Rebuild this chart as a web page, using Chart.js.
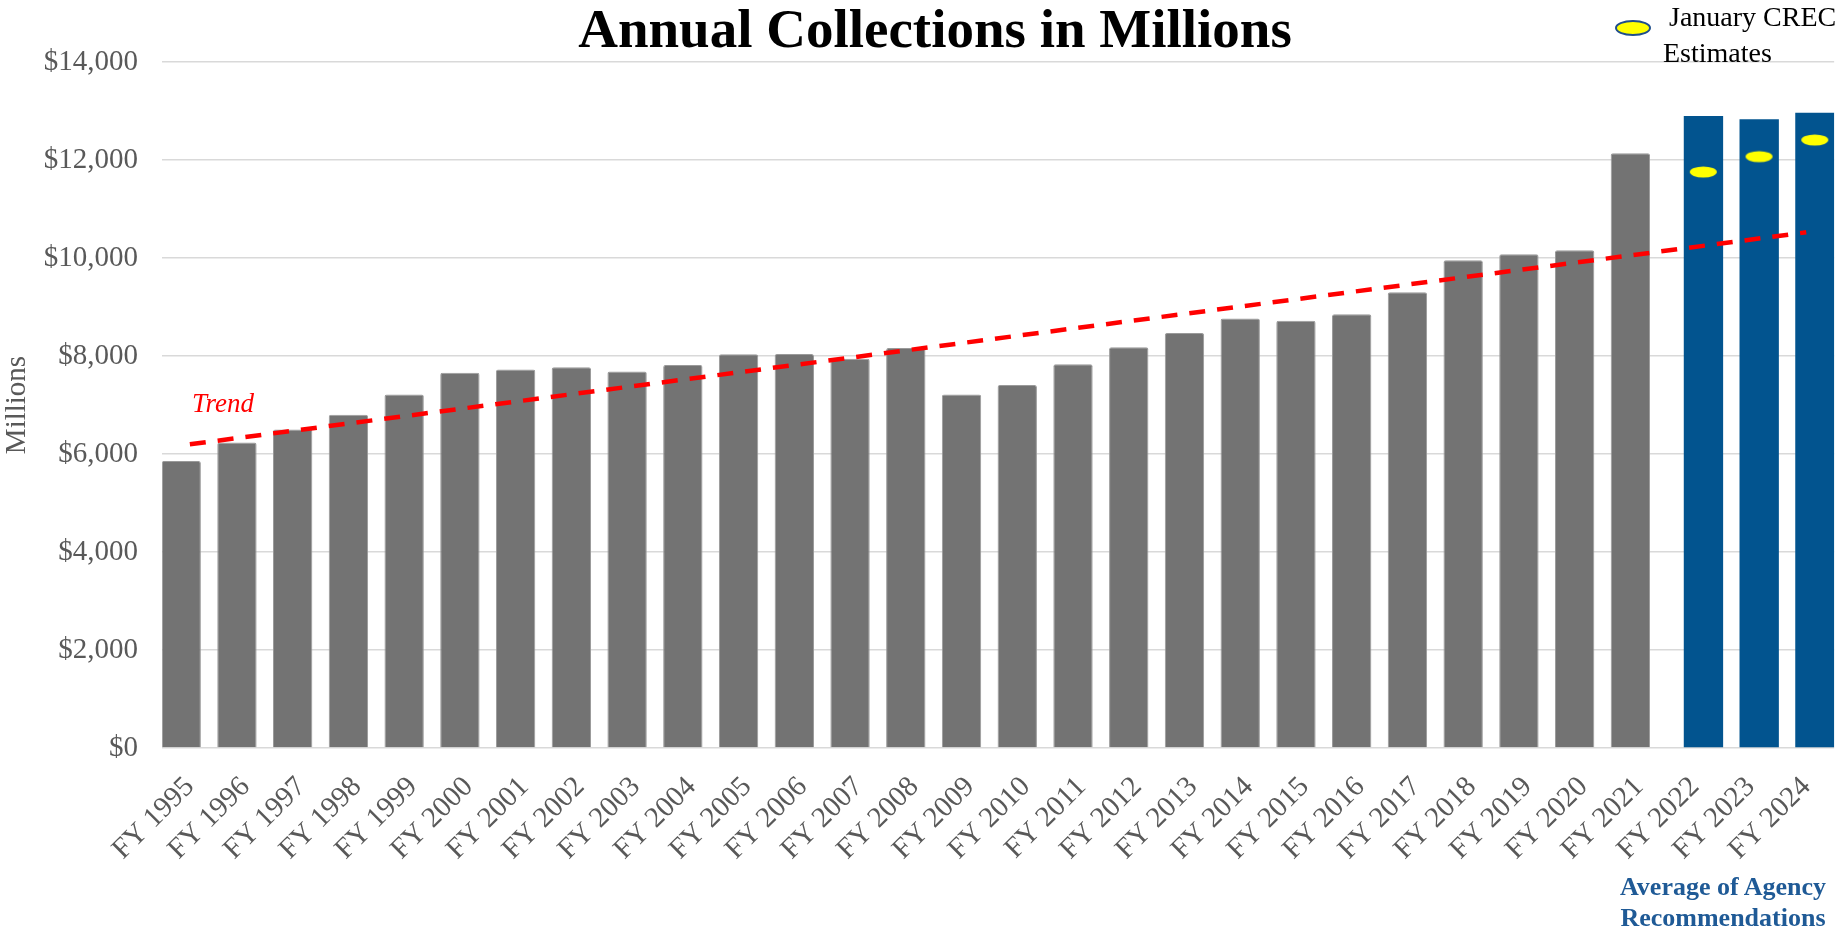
<!DOCTYPE html>
<html>
<head>
<meta charset="utf-8">
<title>Annual Collections in Millions</title>
<script src="https://cdn.jsdelivr.net/npm/chart.js@4.4.1/dist/chart.umd.min.js"></script>
<style>
    body { margin: 0; background: #fff; }
    #wrap { position: relative; width: 1845px; height: 933px; font-family: "Liberation Serif", "Times New Roman", serif; }
    #wrap canvas { position: absolute; left: 0; top: 0; }
    .txt { position: absolute; white-space: nowrap; line-height: 1; }
    #title { left: 935px; top: 1px; transform: translateX(-50%); font-size: 55px; font-weight: bold; color: #000; }
    .legend-line { font-size: 28px; color: #000; }
    #legendMark { position: absolute; left: 1615px; top: 20px; width: 32px; height: 12px; border: 2px solid #1f4e8c; border-radius: 50%; background: #ffff00; }
    #trend { left: 192px; top: 390px; font-size: 27px; font-style: italic; color: #ff0000; }
    #note { left: 1723px; top: 871px; transform: translateX(-50%); font-size: 26px; font-weight: bold; color: #1f5a96; text-align: center; line-height: 31px; }
</style>
</head>
<body>
<div id="wrap">
    <canvas id="collectionsChart" width="1845" height="933"></canvas>
    <div class="txt" id="title">Annual Collections in Millions</div>
    <div id="legendMark"></div>
    <div class="txt legend-line" style="left:1669px; top:3px;">January CREC</div>
    <div class="txt legend-line" style="left:1663px; top:39px;">Estimates</div>
    <div class="txt" id="trend">Trend</div>
    <div class="txt" id="note">Average of Agency<br>Recommendations</div>
</div>
<script>
// Fiscal years on the x axis
const years = [
    'FY 1995', 'FY 1996', 'FY 1997', 'FY 1998', 'FY 1999', 'FY 2000', 'FY 2001', 'FY 2002',
    'FY 2003', 'FY 2004', 'FY 2005', 'FY 2006', 'FY 2007', 'FY 2008', 'FY 2009', 'FY 2010',
    'FY 2011', 'FY 2012', 'FY 2013', 'FY 2014', 'FY 2015', 'FY 2016', 'FY 2017', 'FY 2018',
    'FY 2019', 'FY 2020', 'FY 2021', 'FY 2022', 'FY 2023', 'FY 2024'
];

// Actual collections (millions), FY 1995 - FY 2021
const actualCollections = [
    5855, 6235, 6500, 6800, 7215, 7660, 7722, 7770, 7682, 7818,
    8035, 8040, 7945, 8165, 7215, 7406, 7830, 8177, 8471, 8765,
    8717, 8850, 9299, 9952, 10075, 10156, 12136,
    null, null, null
];

// Average of agency recommendations, FY 2022 - FY 2024
const agencyAverage = [
    null, null, null, null, null, null, null, null, null, null,
    null, null, null, null, null, null, null, null, null, null,
    null, null, null, null, null, null, null,
    12898, 12830, 12966
];

// January CREC estimates
const crecEstimates = [
    null, null, null, null, null, null, null, null, null, null,
    null, null, null, null, null, null, null, null, null, null,
    null, null, null, null, null, null, null,
    11755, 12068, 12408
];

// Trend line end points (FY 1995 and FY 2024)
const trendPoints = [
    6198, null, null, null, null, null, null, null, null, null,
    null, null, null, null, null, null, null, null, null, null,
    null, null, null, null, null, null, null, null, null,
    10524
];

const yTicks = [0, 2000, 4000, 6000, 8000, 10000, 12000, 14000];

// Yellow ellipse marker, shifted right to sit on the blue bars
function makeEllipse() {
    const c = document.createElement('canvas');
    c.width = 48;
    c.height = 14;
    const g = c.getContext('2d');
    g.fillStyle = '#ffff00';
    g.beginPath();
    g.ellipse(24 + 8.5, 7, 13.5, 5.5, 0, 0, Math.PI * 2);
    g.fill();
    return c;
}

const labelFont = { family: '"Liberation Serif", "Times New Roman", serif', size: 29 };

const ctx = document.getElementById('collectionsChart').getContext('2d');
const chart = new Chart(ctx, {
    type: 'bar',
    data: {
        labels: years,
        datasets: [
            {
                type: 'line',
                label: 'Trend',
                data: trendPoints,
                borderColor: '#ff0000',
                borderWidth: 4.5,
                borderDash: [16, 12],
                pointRadius: 0,
                spanGaps: true,
                fill: false,
                order: 0
            },
            {
                type: 'line',
                label: 'January CREC Estimates',
                data: crecEstimates,
                showLine: false,
                pointStyle: makeEllipse(),
                pointRadius: 7,
                order: 1
            },
            {
                label: 'Collections',
                data: actualCollections,
                backgroundColor: '#737373',
                borderColor: '#9a9a9a',
                borderWidth: 1,
                borderRadius: 2,
                order: 2
            },
            {
                label: 'Average of Agency Recommendations',
                data: agencyAverage,
                backgroundColor: '#02548f',
                borderWidth: 0,
                order: 2
            }
        ]
    },
    options: {
        responsive: false,
        animation: false,
        categoryPercentage: 0.622,
        barPercentage: 2.27,
        layout: {
            padding: { top: 62, right: 5, bottom: 0, left: 0 }
        },
        scales: {
            x: {
                grid: { display: false },
                border: { display: false },
                ticks: {
                    color: '#595959',
                    font: labelFont,
                    autoSkip: false,
                    minRotation: 45,
                    maxRotation: 45,
                    padding: 14
                },
                afterFit: (scale) => { scale.height = 185; }
            },
            y: {
                min: 0,
                max: 14000,
                afterBuildTicks: (scale) => { scale.ticks = yTicks.map(v => ({ value: v })); },
                grid: { color: '#d9d9d9', lineWidth: 1.5, drawTicks: false },
                border: { display: false },
                ticks: {
                    color: '#595959',
                    font: labelFont,
                    padding: 24,
                    callback: (v) => '$' + v.toLocaleString('en-US')
                },
                title: {
                    display: true,
                    text: 'Millions',
                    color: '#595959',
                    font: labelFont,
                    padding: 0
                },
                afterFit: (scale) => { scale.width = 162; }
            }
        },
        plugins: {
            legend: { display: false },
            tooltip: { enabled: false },
            title: { display: false }
        }
    }
});
</script>
</body>
</html>
